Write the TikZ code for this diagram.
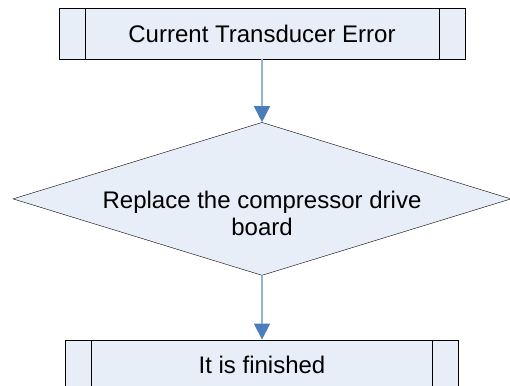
\documentclass[tikz,border=0pt]{standalone}
\usepackage{fontspec}
\setmainfont{Liberation Sans}
\usetikzlibrary{arrows.meta,positioning,shapes.geometric}
\definecolor{boxfill}{HTML}{E8EEF7}
\definecolor{linkblue}{HTML}{95B3D7}
\definecolor{tipblue}{HTML}{4A7EBB}

\begin{document}
\begin{tikzpicture}[x=1pt,y=1pt,font=\fontsize{24}{27}\selectfont,
 proc/.style={draw=black,fill=boxfill,minimum height=51pt,inner sep=0pt,
  path picture={\draw[black] ([xshift=26pt]path picture bounding box.north west)--([xshift=26pt]path picture bounding box.south west);
   \draw[black] ([xshift=-26pt]path picture bounding box.north east)--([xshift=-26pt]path picture bounding box.south east);}},
 decide/.style={draw=black,fill=boxfill,diamond,minimum width=498pt,minimum height=153pt,inner sep=0pt},
 arr/.style={-{Triangle[length=16pt,width=16pt,color=tipblue]},line width=1.3pt,draw=linkblue}]
\useasboundingbox (0,0) rectangle (510,385);
\clip (0,0) rectangle (510,385);
\node[proc,minimum width=406pt] (err) at (262,351.5) {Current Transducer Error};
\node[decide,below=63pt of err] (dia) {};
\node[align=center] (diatext) at ([yshift=-15pt]dia.center) {Replace the compressor drive\\board};
\node[proc,minimum width=393pt,below=64pt of dia] (done) {It is finished};
\draw[arr] (err)--(dia); \draw[arr] (dia)--(done);
\end{tikzpicture}
\end{document}
